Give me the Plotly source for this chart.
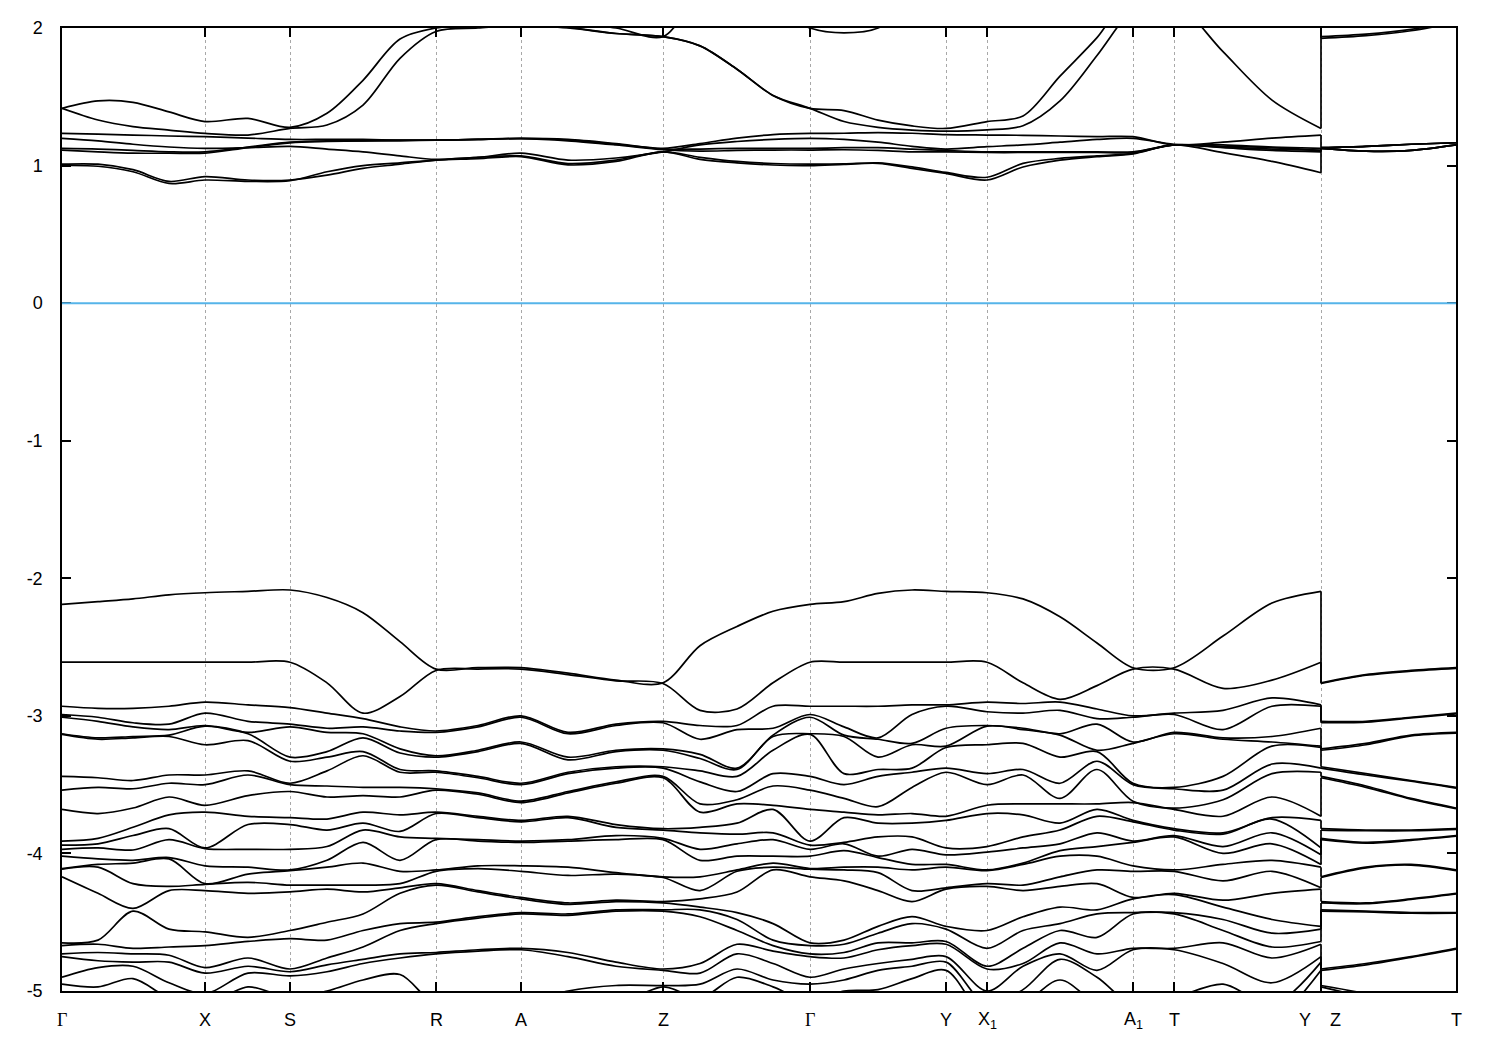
import plotly.graph_objects as go

# ---------------- k-path ----------------
KPT_LABELS = ["Γ", "X", "S", "R", "A", "Z", "Γ", "Y", "X<sub>1</sub>", "A<sub>1</sub>", "T", "Y", "Z", "T"]
KPT_POS = [0.00, 1.43, 2.28, 3.74, 4.59, 6.01, 7.48, 8.84, 9.25, 10.71, 11.12, 12.59, 12.59, 13.94]

# sampling positions along the path (first branch Γ ... Y, second branch Z - T)
K_MAIN = [0.00, 0.36, 0.71, 1.07, 1.43, 1.86, 2.28, 2.65, 3.01, 3.38, 3.74, 4.16, 4.59,
          5.06, 5.54, 6.01, 6.38, 6.75, 7.11, 7.48, 7.82, 8.16, 8.50, 8.84, 9.25, 9.61,
          9.98, 10.35, 10.71, 11.12, 11.61, 12.10, 12.59]
K_ZT = [12.59, 13.04, 13.49, 13.94]

Y_TICKS = [-5, -4, -3, -2, -1, 0, 1, 2]
Y_LABELS = ["-5", "-4", "-3", "-2", "-1", "0", "1", "2"]

# ---------------- conduction bands (eV), one value per K_MAIN point ----------------
C1 = [1.00, 0.995, 0.955, 0.87, 0.895, 0.885, 0.89, 0.955, 1.00, 1.02, 1.04, 1.05, 1.065, 1.005, 1.03, 1.10,
      1.045, 1.02, 1.004, 1.00, 1.009, 1.016, 0.98, 0.943, 0.895, 0.99, 1.04, 1.065, 1.085, 1.15, 1.094, 1.03, 0.948]
C2 = [1.01, 1.01, 0.97, 0.885, 0.92, 0.895, 0.895, 0.93, 0.98, 1.01, 1.04, 1.06, 1.07, 1.015, 1.04, 1.10,
      1.06, 1.03, 1.015, 1.01, 1.012, 1.02, 0.99, 0.95, 0.915, 1.016, 1.052, 1.07, 1.089, 1.15, 1.14, 1.13, 1.11]
C3 = [1.113, 1.10, 1.09, 1.09, 1.09, 1.13, 1.165, 1.175, 1.18, 1.18, 1.185, 1.19, 1.195, 1.18, 1.15, 1.115,
      1.105, 1.11, 1.113, 1.113, 1.115, 1.11, 1.10, 1.10, 1.095, 1.095, 1.095, 1.095, 1.095, 1.15, 1.13, 1.11, 1.10]
C4 = [1.125, 1.12, 1.11, 1.10, 1.10, 1.135, 1.17, 1.18, 1.18, 1.185, 1.185, 1.19, 1.198, 1.185, 1.155, 1.12,
      1.12, 1.125, 1.125, 1.125, 1.13, 1.13, 1.12, 1.11, 1.10, 1.10, 1.10, 1.10, 1.10, 1.15, 1.135, 1.12, 1.11]
C5 = [1.198, 1.18, 1.155, 1.135, 1.125, 1.13, 1.14, 1.12, 1.10, 1.07, 1.045, 1.06, 1.09, 1.04, 1.055, 1.10,
      1.15, 1.175, 1.19, 1.198, 1.19, 1.17, 1.14, 1.12, 1.137, 1.15, 1.17, 1.19, 1.198, 1.155, 1.15, 1.135, 1.125]
C6 = [1.234, 1.228, 1.222, 1.215, 1.21, 1.20, 1.19, 1.19, 1.19, 1.185, 1.185, 1.19, 1.198, 1.19, 1.16, 1.125,
      1.16, 1.20, 1.225, 1.234, 1.235, 1.24, 1.235, 1.225, 1.222, 1.22, 1.215, 1.21, 1.21, 1.15, 1.17, 1.20, 1.222]
C7 = [1.416, 1.47, 1.46, 1.39, 1.32, 1.343, 1.278, 1.38, 1.62, 1.92, 2.0, 2.02, 2.03, 2.005, 1.96, 1.937,
      1.87, 1.70, 1.51, 1.416, 1.40, 1.33, 1.288, 1.27, 1.32, 1.36, 1.65, 1.93, 2.25, 2.2, 1.828, 1.476, 1.27]
C8 = [1.416, 1.331, 1.283, 1.258, 1.234, 1.222, 1.27, 1.295, 1.44, 1.78, 1.975, 2.0, 2.02, 2.0, 1.96, 1.937,
      1.87, 1.70, 1.51, 1.416, 1.32, 1.278, 1.258, 1.25, 1.26, 1.29, 1.47, 1.80, 2.15, 2.4, 2.5, 2.5, 2.5]
C9 = [2.6, 2.6, 2.6, 2.6, 2.6, 2.6, 2.6, 2.6, 2.6, 2.6, 2.4, 2.2, 2.06, 2.04, 2.0, 1.937,
      2.25, 2.3, 2.15, 2.0, 1.965, 2.0, 2.2, 2.4, 2.5, 2.6, 2.6, 2.6, 2.6, 2.6, 2.6, 2.6, 2.6]

# conduction bands on the Z - T branch (one value per K_ZT point)
CZ_LOW = [1.125, 1.105, 1.11, 1.15]
CZ_MID = [1.13, 1.14, 1.155, 1.166]
CZ_UP1 = [1.937, 1.955, 1.99, 2.05]
CZ_UP2 = [1.925, 1.945, 1.98, 2.04]
CZ_OUT = [2.6, 2.6, 2.6, 2.6]

# ---------------- valence bands (eV): energies at each K_MAIN point, highest first ----------------
VAL_GAMMA = [-2.19, -2.61, -2.93, -2.99, -3.01, -3.13, -3.135, -3.44, -3.54, -3.68, -3.91, -3.94, -3.97, -4.02,
             -4.11, -4.115, -4.17, -4.65, -4.67, -4.73, -4.75, -4.90, -4.95, -5.08]
VAL_Y = [-2.095, -2.61, -2.92, -2.93, -3.09, -3.22, -3.23, -3.38, -3.41, -3.73, -3.76, -3.96, -4.01, -4.08,
         -4.10, -4.25, -4.26, -4.53, -4.55, -4.64, -4.66, -4.75, -4.79, -4.85]
VAL_A = [-2.65, -2.66, -3.00, -3.01, -3.19, -3.20, -3.49, -3.50, -3.62, -3.63, -3.76, -3.77, -3.91, -3.92,
         -4.09, -4.13, -4.32, -4.33, -4.43, -4.44, -4.69, -4.70, -5.1, -5.2]
VALENCE_MAIN = [
    VAL_GAMMA,
    [-2.17, -2.61, -2.945, -3.01, -3.04, -3.16, -3.17, -3.45, -3.52, -3.71, -3.89, -3.93, -3.96, -4.04, -4.08, -4.10, -4.29, -4.63, -4.66, -4.72, -4.78, -4.83, -4.97, -5.1],
    [-2.15, -2.61, -2.945, -3.05, -3.08, -3.15, -3.16, -3.47, -3.53, -3.67, -3.81, -3.87, -3.975, -4.05, -4.07, -4.22, -4.40, -4.42, -4.69, -4.73, -4.79, -4.82, -4.91, -5.05],
    [-2.12, -2.61, -2.93, -3.06, -3.10, -3.14, -3.15, -3.43, -3.49, -3.59, -3.72, -3.82, -3.90, -4.03, -4.04, -4.24, -4.27, -4.55, -4.68, -4.74, -4.79, -4.94, -5.05, -5.2],
    [-2.105, -2.61, -2.90, -2.98, -3.07, -3.075, -3.21, -3.43, -3.50, -3.65, -3.70, -3.96, -3.965, -4.09, -4.22, -4.225, -4.27, -4.57, -4.67, -4.83, -4.87, -5.02, -5.1, -5.2],
    [-2.095, -2.61, -2.92, -3.04, -3.12, -3.13, -3.18, -3.40, -3.43, -3.58, -3.73, -3.79, -3.97, -4.10, -4.15, -4.21, -4.29, -4.61, -4.64, -4.76, -4.82, -4.87, -4.97, -5.1],
    [-2.085, -2.61, -2.94, -3.06, -3.08, -3.30, -3.33, -3.49, -3.50, -3.55, -3.74, -3.79, -3.97, -4.12, -4.125, -4.23, -4.28, -4.56, -4.62, -4.84, -4.86, -4.89, -5.05, -5.2],
    [-2.14, -2.76, -2.98, -3.09, -3.12, -3.26, -3.30, -3.40, -3.51, -3.59, -3.75, -3.83, -3.95, -4.05, -4.10, -4.23, -4.26, -4.50, -4.63, -4.76, -4.81, -4.86, -5.0, -5.2],
    [-2.25, -2.98, -3.02, -3.08, -3.13, -3.16, -3.26, -3.29, -3.52, -3.58, -3.70, -3.78, -3.83, -3.92, -4.07, -4.23, -4.28, -4.44, -4.56, -4.68, -4.77, -4.80, -4.92, -5.1],
    [-2.46, -2.86, -3.08, -3.11, -3.24, -3.27, -3.39, -3.41, -3.52, -3.59, -3.72, -3.84, -3.88, -4.05, -4.13, -4.22, -4.25, -4.29, -4.51, -4.56, -4.73, -4.76, -4.88, -5.1],
    [-2.66, -2.67, -3.11, -3.12, -3.29, -3.30, -3.40, -3.41, -3.53, -3.54, -3.70, -3.71, -3.89, -3.90, -4.12, -4.13, -4.22, -4.23, -4.50, -4.51, -4.72, -4.73, -5.1, -5.2],
    [-2.65, -2.66, -3.07, -3.08, -3.25, -3.26, -3.44, -3.45, -3.56, -3.57, -3.73, -3.74, -3.90, -3.91, -4.09, -4.11, -4.27, -4.28, -4.46, -4.47, -4.70, -4.71, -5.1, -5.2],
    VAL_A,
    [-2.69, -2.70, -3.12, -3.13, -3.30, -3.32, -3.41, -3.42, -3.55, -3.56, -3.73, -3.74, -3.90, -3.91, -4.10, -4.16, -4.36, -4.37, -4.44, -4.45, -4.72, -4.75, -5.0, -5.1],
    [-2.74, -2.745, -3.06, -3.07, -3.25, -3.26, -3.37, -3.38, -3.48, -3.49, -3.79, -3.81, -3.87, -3.90, -4.14, -4.15, -4.34, -4.35, -4.41, -4.42, -4.79, -4.82, -4.96, -5.1],
    [-2.76, -2.765, -3.04, -3.05, -3.24, -3.25, -3.37, -3.38, -3.44, -3.45, -3.82, -3.83, -3.89, -3.90, -4.17, -4.175, -4.35, -4.36, -4.41, -4.42, -4.84, -4.85, -4.96, -4.97],
    [-2.49, -2.96, -3.07, -3.17, -3.28, -3.31, -3.40, -3.48, -3.64, -3.70, -3.81, -3.85, -3.97, -4.05, -4.17, -4.27, -4.33, -4.39, -4.41, -4.46, -4.80, -4.87, -4.95, -5.05],
    [-2.35, -2.95, -3.07, -3.10, -3.38, -3.39, -3.44, -3.55, -3.61, -3.64, -3.78, -3.86, -3.93, -4.02, -4.12, -4.13, -4.28, -4.43, -4.48, -4.56, -4.66, -4.73, -4.84, -4.90],
    [-2.24, -2.76, -2.93, -3.09, -3.14, -3.15, -3.25, -3.42, -3.51, -3.65, -3.68, -3.85, -3.90, -4.02, -4.07, -4.10, -4.12, -4.51, -4.63, -4.67, -4.71, -4.80, -4.92, -4.97],
    VAL_GAMMA,
    [-2.17, -2.61, -2.93, -3.08, -3.14, -3.15, -3.42, -3.50, -3.60, -3.70, -3.74, -3.92, -3.93, -3.98, -4.10, -4.12, -4.20, -4.63, -4.66, -4.72, -4.76, -4.84, -4.92, -5.0],
    [-2.11, -2.61, -2.93, -3.16, -3.17, -3.30, -3.39, -3.44, -3.66, -3.72, -3.78, -3.88, -4.02, -4.03, -4.10, -4.14, -4.27, -4.53, -4.58, -4.65, -4.70, -4.80, -4.85, -4.99],
    [-2.085, -2.61, -2.92, -2.99, -3.20, -3.21, -3.38, -3.41, -3.52, -3.71, -3.78, -3.88, -3.97, -4.08, -4.12, -4.27, -4.35, -4.46, -4.51, -4.65, -4.67, -4.77, -4.82, -4.91],
    VAL_Y,
    [-2.105, -2.61, -2.90, -2.97, -3.07, -3.075, -3.21, -3.42, -3.50, -3.65, -3.71, -3.95, -3.99, -4.12, -4.125, -4.22, -4.24, -4.56, -4.69, -4.82, -4.84, -5.0, -5.1, -5.2],
    [-2.15, -2.76, -2.91, -2.98, -3.09, -3.10, -3.20, -3.39, -3.43, -3.64, -3.72, -3.88, -3.96, -4.07, -4.08, -4.23, -4.27, -4.46, -4.56, -4.69, -4.80, -4.82, -4.99, -5.1],
    [-2.28, -2.88, -2.90, -2.96, -3.13, -3.14, -3.30, -3.49, -3.60, -3.64, -3.78, -3.83, -3.93, -3.98, -4.02, -4.17, -4.24, -4.39, -4.51, -4.56, -4.65, -4.73, -4.77, -4.92],
    [-2.47, -2.78, -2.95, -3.02, -3.06, -3.25, -3.26, -3.33, -3.39, -3.64, -3.68, -3.73, -3.85, -3.95, -4.02, -4.12, -4.22, -4.41, -4.44, -4.61, -4.73, -4.85, -4.90, -5.1],
    VAL_A,
    [-2.65, -2.66, -2.98, -2.99, -3.12, -3.13, -3.52, -3.53, -3.67, -3.68, -3.82, -3.83, -3.87, -3.88, -4.12, -4.13, -4.29, -4.30, -4.43, -4.44, -4.69, -4.70, -5.05, -5.1],
    [-2.42, -2.80, -2.96, -3.10, -3.16, -3.17, -3.44, -3.54, -3.61, -3.73, -3.85, -3.86, -3.95, -4.00, -4.08, -4.20, -4.34, -4.39, -4.48, -4.56, -4.65, -4.80, -4.95, -5.1],
    [-2.18, -2.74, -2.87, -2.93, -3.15, -3.19, -3.22, -3.35, -3.42, -3.59, -3.74, -3.75, -3.85, -3.93, -4.05, -4.13, -4.29, -4.48, -4.58, -4.68, -4.76, -4.94, -5.1, -5.2],
    VAL_Y,
]
VALENCE_ZT = [
    [-2.76, -2.765, -3.04, -3.05, -3.24, -3.25, -3.37, -3.38, -3.44, -3.45, -3.82, -3.83, -3.89, -3.90, -4.17, -4.175, -4.35, -4.36, -4.41, -4.42, -4.84, -4.85, -4.96, -4.97],
    [-2.70, -2.705, -3.04, -3.045, -3.20, -3.21, -3.42, -3.43, -3.51, -3.52, -3.83, -3.835, -3.92, -3.925, -4.10, -4.105, -4.36, -4.365, -4.42, -4.425, -4.80, -4.81, -5.02, -5.05],
    [-2.67, -2.675, -3.01, -3.015, -3.14, -3.145, -3.47, -3.475, -3.60, -3.605, -3.83, -3.835, -3.90, -3.905, -4.08, -4.085, -4.33, -4.335, -4.43, -4.435, -4.75, -4.755, -5.1, -5.15],
    [-2.65, -2.655, -2.98, -2.985, -3.12, -3.125, -3.52, -3.525, -3.67, -3.675, -3.82, -3.825, -3.87, -3.875, -4.12, -4.125, -4.29, -4.295, -4.43, -4.435, -4.69, -4.695, -5.2, -5.25],
]

# ---------------- assemble bands ----------------
bands_main = [C1, C2, C3, C4, C5, C6, C7, C8, C9]
bands_zt = [CZ_LOW, CZ_LOW, CZ_LOW, CZ_MID, CZ_MID, CZ_MID, CZ_UP1, CZ_UP2, CZ_OUT]
n_val = len(VALENCE_MAIN[0])
for i in range(n_val):
    bands_main.append([s[i] for s in VALENCE_MAIN])
    bands_zt.append([s[i] for s in VALENCE_ZT])

xs, ys, cx, cy = [], [], [], []
for m, z in zip(bands_main, bands_zt):
    xs += K_MAIN + [None] + K_ZT + [None]
    ys += m + [None] + z + [None]
    cx += [K_MAIN[-1], K_ZT[0], None]
    cy += [m[-1], z[0], None]

fig = go.Figure()
fig.add_trace(go.Scatter(x=xs, y=ys, mode="lines",
                         line=dict(color="black", width=1.7, shape="spline", smoothing=0.9),
                         hoverinfo="skip", showlegend=False))
fig.add_trace(go.Scatter(x=cx, y=cy, mode="lines",
                         line=dict(color="black", width=1.7),
                         hoverinfo="skip", showlegend=False))

# Fermi level
fig.add_shape(type="line", xref="paper", x0=0, x1=1, yref="y", y0=0, y1=0,
              line=dict(color="#56b4e9", width=2), layer="above")

# k-point labels
annotations = []
for j, (lab, pos) in enumerate(zip(KPT_LABELS, KPT_POS)):
    shift = 0
    if j + 1 < len(KPT_POS) and KPT_POS[j + 1] == pos:
        shift = -16
    elif j > 0 and KPT_POS[j - 1] == pos:
        shift = 14
    fam = "Liberation Serif, Times New Roman, serif" if lab == "Γ" else "Liberation Sans, Arial, sans-serif"
    annotations.append(dict(x=pos, xref="x", y=0, yref="paper", yanchor="middle", xanchor="center",
                            yshift=-29, xshift=shift, text=lab, showarrow=False,
                            font=dict(family=fam, size=18, color="black")))

fig.update_layout(
    width=1500, height=1050,
    margin=dict(l=62, r=44, t=28, b=59),
    paper_bgcolor="white", plot_bgcolor="white",
    showlegend=False,
    font=dict(family="Liberation Sans, Arial, sans-serif", size=18, color="black"),
    annotations=annotations,
)
fig.update_xaxes(range=[0, 13.94], tickvals=KPT_POS, showticklabels=False,
                 ticks="inside", ticklen=9, tickwidth=1.5, tickcolor="black",
                 showline=True, linecolor="black", linewidth=1.5, mirror="ticks",
                 showgrid=True, gridcolor="#a8a8a8", gridwidth=1, griddash="3px,3px",
                 zeroline=False)
fig.update_yaxes(range=[-5, 2], tickvals=Y_TICKS, ticktext=Y_LABELS,
                 ticks="inside", ticklen=9, tickwidth=1.5, tickcolor="black",
                 showline=True, linecolor="black", linewidth=1.5, mirror="ticks",
                 showgrid=False, zeroline=False, ticklabelstandoff=14,
                 tickfont=dict(size=18))

fig.write_html("out.html", config={"displayModeBar": False},
               post_script="document.body.style.margin='0';")
